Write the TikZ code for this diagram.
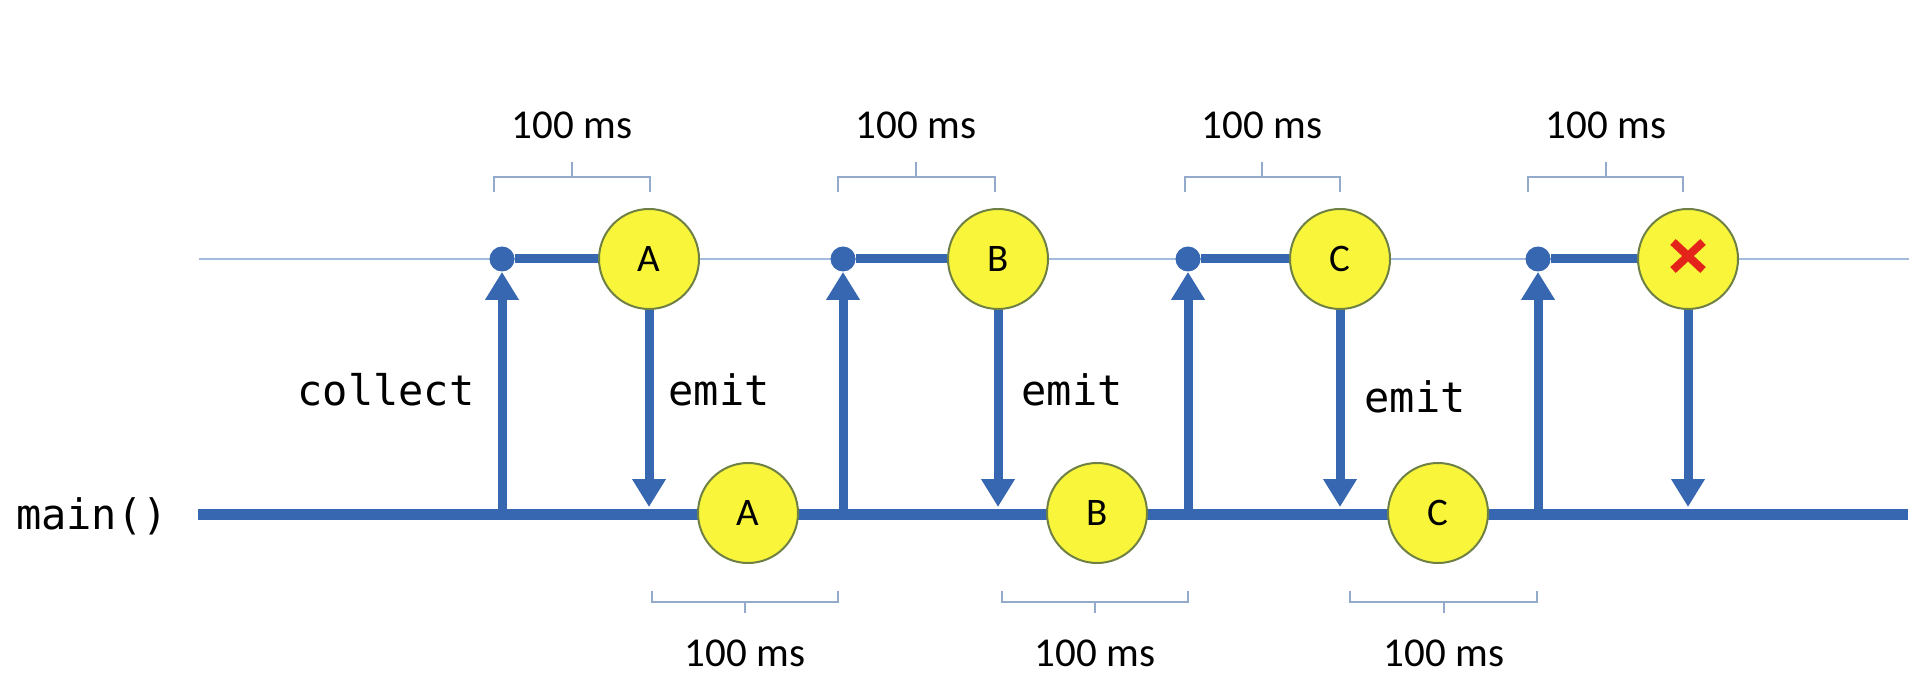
\documentclass[tikz,border=0pt]{standalone}
\usepackage{fontspec}
\setmainfont{Carlito}
\newfontfamily\monof{DejaVu Sans Mono}
\usetikzlibrary{arrows.meta}
\definecolor{lineblue}{HTML}{3767B1}
\definecolor{thinblue}{HTML}{A3BCDE}
\definecolor{bracecol}{HTML}{93AACB}
\definecolor{ballfill}{HTML}{F8F53A}
\definecolor{balledge}{HTML}{6F8045}
\definecolor{xred}{HTML}{E3241B}
\pgfdeclarelayer{background}
\pgfsetlayers{background,main}
\begin{document}
\begin{tikzpicture}[x=0.5pt,y=-0.5pt,
  ball/.style={circle, fill=ballfill, draw=balledge, line width=1pt, minimum size=50pt, inner sep=0pt, font=\fontsize{19.5}{19.5}\selectfont},
  dot/.style={circle, fill=lineblue, minimum size=12.5pt, inner sep=0pt},
  flow/.style={draw=lineblue, line width=4.5pt},
  arr/.style={flow, -{Triangle[width=16pt,length=14pt]}},
  code/.style={font=\monof\fontsize{21}{21}\selectfont, inner sep=0pt},
  ms/.style={font=\fontsize{20.5}{20.5}\selectfont, inner sep=0pt},
  brk/.style={draw=bracecol, line width=0.8pt},
]
\useasboundingbox (0,0) rectangle (1916,678);

% top (emitter) circles
\node[ball] (tA) at (649,259) {A};
\node[ball] (tB) at (998,259) {B};
\node[ball] (tC) at (1340,259) {C};
\node[ball] (tX) at (1688,259) {};
\draw[xred, line width=4pt] (1673,242) -- (1703,270) (1703,242) -- (1673,270);

% bottom (collected) circles
\node[ball] (bA) at (748,513) {A};
\node[ball] (bB) at (1097,513) {B};
\node[ball] (bC) at (1438,513) {C};

% collect dots
\node[dot] (d1) at (502,259) {};
\node[dot] (d2) at (843,259) {};
\node[dot] (d3) at (1188,259) {};
\node[dot] (d4) at (1538,259) {};

% points on the main line
\coordinate (m1) at (502,514);
\coordinate (m2) at (843,514);
\coordinate (m3) at (1188,514);
\coordinate (m4) at (1538,514);
\coordinate (e1) at (649,507);
\coordinate (e2) at (998,507);
\coordinate (e3) at (1340,507);
\coordinate (e4) at (1688,507);
\coordinate (ms) at (198,514);
\coordinate (me) at (1908,514);
\coordinate (ts) at (199,259);
\coordinate (te) at (1909,259);

\begin{pgfonlayer}{background}
  \draw[thinblue, line width=0.9pt] (ts) -- (te);
  \draw[flow, line width=5.5pt] (ms) -- (me);
  \draw[flow] (d1) -- (tA.west);
  \draw[flow] (d2) -- (tB.west);
  \draw[flow] (d3) -- (tC.west);
  \draw[flow] (d4) -- (tX.west);
\end{pgfonlayer}

% collect arrows
\draw[arr] (m1) -- (d1.south);
\draw[arr] (m2) -- (d2.south);
\draw[arr] (m3) -- (d3.south);
\draw[arr] (m4) -- (d4.south);
% emit arrows
\draw[arr] (tA.south) -- (e1);
\draw[arr] (tB.south) -- (e2);
\draw[arr] (tC.south) -- (e3);
\draw[arr] (tX.south) -- (e4);

% labels
\node[code] (lmain) at (92,516) {main()};
\node[code] (lcol) at (386,390) {collect};
\node[code] (lem1) at (719,390) {emit};
\node[code] (lem2) at (1072,390) {emit};
\node[code] (lem3) at (1415,397) {emit};

% top brackets
\draw[brk] (494,192) -- (494,177) -- (650,177) -- (650,192) (572,177) -- (572,162);
\draw[brk] (838,192) -- (838,177) -- (995,177) -- (995,192) (916,177) -- (916,162);
\draw[brk] (1185,192) -- (1185,177) -- (1340,177) -- (1340,192) (1262,177) -- (1262,162);
\draw[brk] (1528,192) -- (1528,177) -- (1683,177) -- (1683,192) (1606,177) -- (1606,162);
\node[ms] (t1) at (572,125) {100 ms};
\node[ms] (t2) at (916,125) {100 ms};
\node[ms] (t3) at (1262,125) {100 ms};
\node[ms] (t4) at (1606,125) {100 ms};

% bottom brackets
\draw[brk] (652,591) -- (652,602) -- (838,602) -- (838,591) (745,602) -- (745,613);
\draw[brk] (1002,591) -- (1002,602) -- (1188,602) -- (1188,591) (1095,602) -- (1095,613);
\draw[brk] (1350,591) -- (1350,602) -- (1537,602) -- (1537,591) (1444,602) -- (1444,613);
\node[ms] (b1) at (745,653) {100 ms};
\node[ms] (b2) at (1095,653) {100 ms};
\node[ms] (b3) at (1444,653) {100 ms};
\end{tikzpicture}
\end{document}
